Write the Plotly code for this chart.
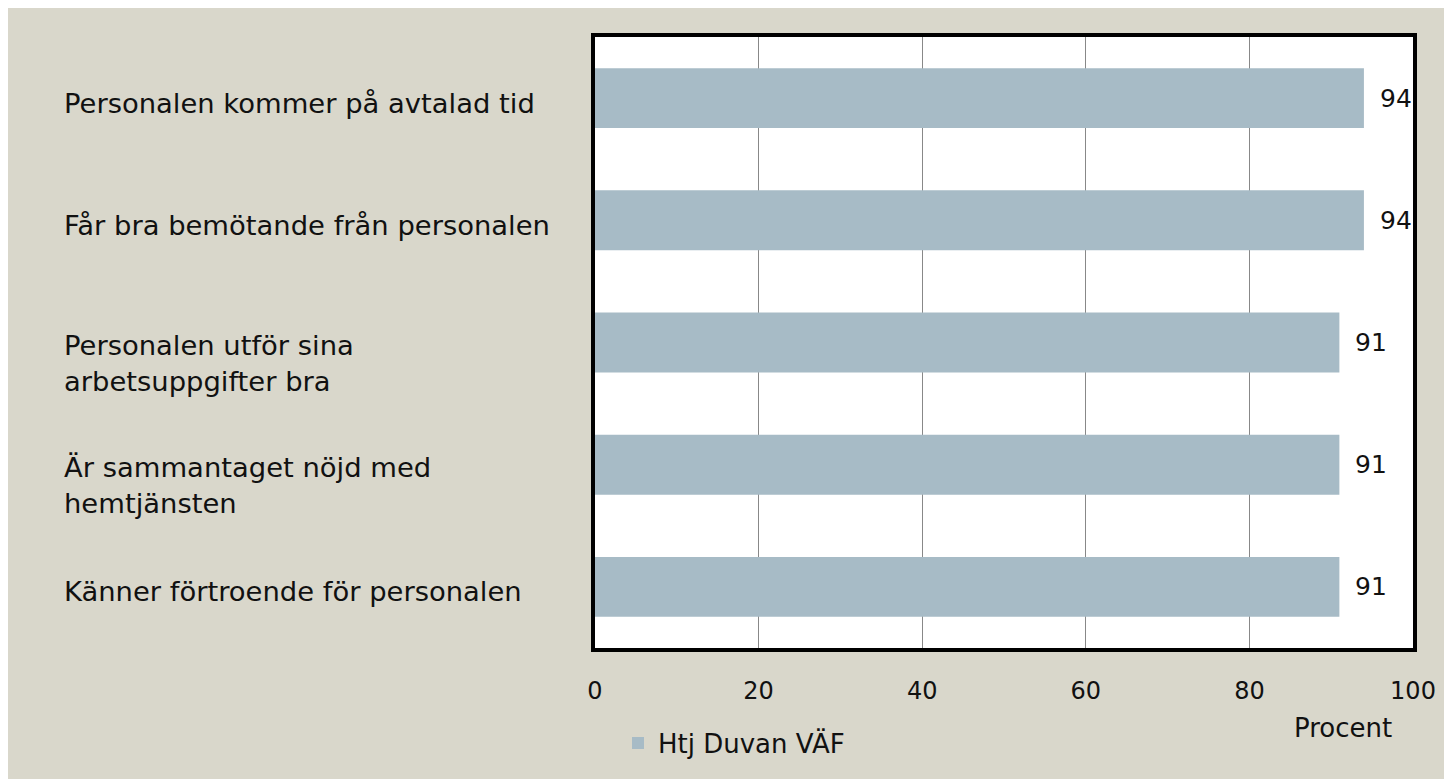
import plotly.graph_objects as go

categories = [
    "Personalen kommer på avtalad tid",
    "Får bra bemötande från personalen",
    "Personalen utför sina<br>arbetsuppgifter bra",
    "Är sammantaget nöjd med<br>hemtjänsten",
    "Känner förtroende för personalen",
]
values = [94, 94, 91, 91, 91]
series_name = "Htj Duvan VÄF"
tick_values = [0, 20, 40, 60, 80, 100]
axis_title = "Procent"

FONT = "DejaVu Sans"
BG = "#d9d7cb"
BAR = "#a7bbc6"

OFF = 8  # page body margin
W, H = 1444, 771
L, R, T, B = 587, 39, 29, 131
pw, ph = W - L - R, H - T - B

def px(x):
    return (x - OFF - L) / pw

def py(y):
    return (H - B - (y - OFF)) / ph

fig = go.Figure()
fig.add_trace(go.Bar(
    x=values, y=categories, orientation="h", name=series_name,
    marker=dict(color=BAR, line=dict(width=0)), width=0.49,
    showlegend=True,
))

annotations = []
for c, v in zip(categories, values):
    two_line = "<br>" in c
    annotations.append(dict(
        x=px(62), xref="paper", y=c, yref="y", text=c, showarrow=False,
        xanchor="left", yanchor="middle", align="left",
        yshift=-21 if two_line else -5,
        font=dict(family=FONT, size=27.4, color="#111111"),
    ))
    annotations.append(dict(
        x=v, xref="x", y=c, yref="y", text=str(v), showarrow=False,
        xanchor="left", yanchor="middle", xshift=14,
        font=dict(family=FONT, size=25, color="#111111"),
    ))
annotations.append(dict(
    x=px(1343), xref="paper", y=py(728), yref="paper", text=axis_title,
    showarrow=False, xanchor="center", yanchor="middle",
    font=dict(family=FONT, size=26, color="#111111"),
))

fig.update_layout(
    width=W, height=H,
    margin=dict(l=L, r=R, t=T, b=B),
    paper_bgcolor=BG, plot_bgcolor="white",
    font=dict(family=FONT, color="#111111"),
    xaxis=dict(
        range=[0, 100], tickvals=tick_values, showgrid=True,
        gridcolor="#888888", gridwidth=1, zeroline=False,
        showline=True, linecolor="black", linewidth=4, mirror=True,
        ticks="", tickfont=dict(family=FONT, size=24, color="#111111"),
        ticklabelstandoff=18, fixedrange=True,
    ),
    yaxis=dict(
        categoryorder="array", categoryarray=categories,
        autorange="reversed", showticklabels=False, showgrid=False,
        zeroline=False, showline=True, linecolor="black", linewidth=4,
        mirror=True, ticks="",
    ),
    bargap=0.51,
    legend=dict(
        orientation="h", x=px(618), xanchor="left", y=py(743), yanchor="middle",
        font=dict(family=FONT, size=26, color="#111111"),
        bgcolor="rgba(0,0,0,0)", itemwidth=30,
    ),
    annotations=annotations,
)

fig.write_html("out.html")
